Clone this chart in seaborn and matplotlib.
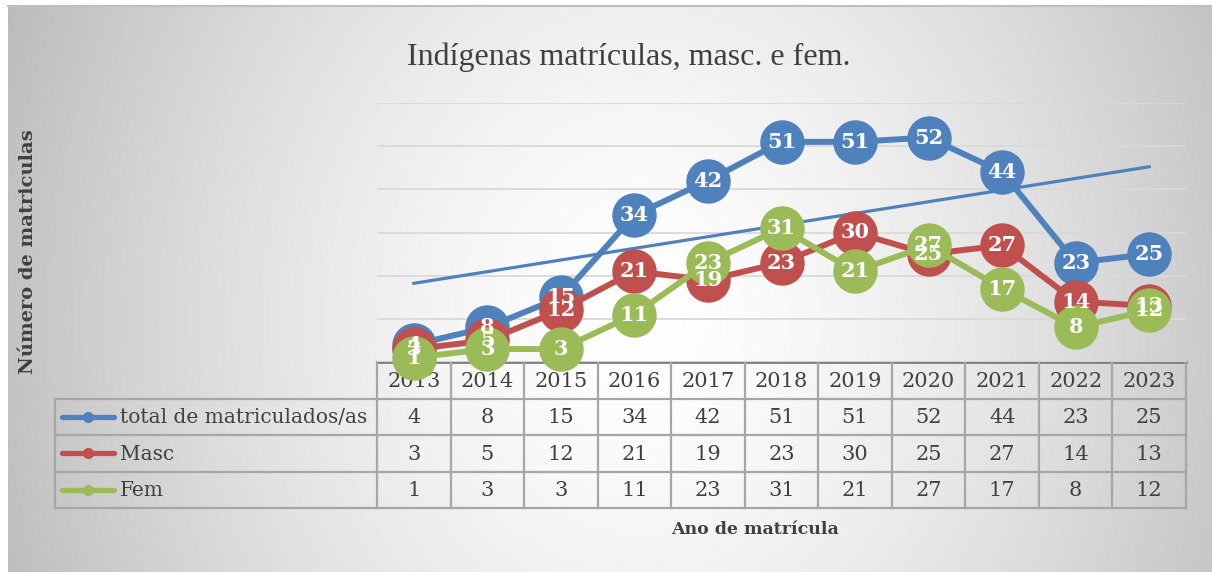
import numpy as np
import pandas as pd
import seaborn as sns
import matplotlib.pyplot as plt

# data
anos = ['2013', '2014', '2015', '2016', '2017', '2018', '2019', '2020', '2021', '2022', '2023']
total = [4, 8, 15, 34, 42, 51, 51, 52, 44, 23, 25]
masc = [3, 5, 12, 21, 19, 23, 30, 25, 27, 14, 13]
fem = [1, 3, 3, 11, 23, 31, 21, 27, 17, 8, 12]
series = ['total de matriculados/as', 'Masc', 'Fem']
cores = ['#4f81bd', '#c0504d', '#9bbb59']

plt.rcParams['font.family'] = 'DejaVu Serif'
txt_cor = '#404040'

W, H = 1212, 572
fig = plt.figure(figsize=(W / 100, H / 100), dpi=100)

# ==============================
# background gradient
# ==============================
bg = fig.add_axes([0, 0, 1, 1], zorder=0)
yy, xx = np.mgrid[0:H, 0:W]
r = np.sqrt(((xx - 640) / 640) ** 2 + ((yy - 320) / 760) ** 2)
v = 1 - 0.24 * np.clip(r, 0, 1.2) ** 1.5
img = np.dstack([v, v, v])
img[:6, :] = 1
img[:, :8] = 1
bg.imshow(img, extent=[0, W, H, 0], aspect='auto', interpolation='bilinear')
bg.set_xlim(0, W)
bg.set_ylim(H, 0)
bg.axis('off')
bg.plot([8, W], [6, 6], color='#bfbfbf', lw=1.5)

# plot area in pixels
L, R, T, B = 377, 1186, 103, 362

# ==============================
# data table
# ==============================
n = len(anos)
xs = L + np.arange(n + 1) * (R - L) / n
rows = [B, 398.5, 435, 471.5, 508]
leg_left = 55
line_c = '#a6a6a6'

bg.plot([L, R], [B, B], color='#7f7f7f', lw=2, zorder=2)
for yr in rows[1:]:
    bg.plot([leg_left, R], [yr, yr], color=line_c, lw=1.6, zorder=2)
for x in xs:
    bg.plot([x, x], [B, rows[-1]], color=line_c, lw=1.6, zorder=2)
bg.plot([leg_left, leg_left], [rows[1], rows[-1]], color=line_c, lw=1.6, zorder=2)

centers = (xs[:-1] + xs[1:]) / 2
for c, a in zip(centers, anos):
    bg.text(c, (rows[0] + rows[1]) / 2 + 1, a, ha='center', va='center', fontsize=15, color=txt_cor)

for k, (nome, vals, cor) in enumerate(zip(series, [total, masc, fem], cores)):
    yc = (rows[k + 1] + rows[k + 2]) / 2
    for c, val in zip(centers, vals):
        bg.text(c, yc + 1, str(val), ha='center', va='center', fontsize=15, color=txt_cor)
    bg.plot([62, 114], [yc, yc], color=cor, lw=3.8, solid_capstyle='round', zorder=3)
    bg.plot([88], [yc], 'o', color=cor, markersize=7, zorder=3)
    bg.text(120, yc + 1, nome, ha='left', va='center', fontsize=14.5, color=txt_cor)

# ==============================
# line chart
# ==============================
ax = fig.add_axes([L / W, 1 - B / H, (R - L) / W, (B - T) / H], zorder=2)
ax.patch.set_alpha(0)

idx = np.arange(n)
df = pd.DataFrame({
    'idx': np.tile(idx, 3),
    'valor': total + masc + fem,
    'serie': np.repeat(series, n),
})

ax.set_yticks(range(0, 61, 10))
ax.grid(axis='y', color='#d9d9d9', lw=1.3)
ax.set_axisbelow(True)

sns.regplot(x=idx, y=np.array(total), scatter=False, ci=None, truncate=True,
            color=cores[0], line_kws={'lw': 2.3, 'zorder': 2}, ax=ax)

sns.lineplot(data=df, x='idx', y='valor', hue='serie', hue_order=series,
             palette=cores, marker='o', markersize=32, markeredgewidth=0,
             linewidth=4.3, legend=False, ax=ax, clip_on=False, zorder=3)

for vals in [total, masc, fem]:
    for i, val in enumerate(vals):
        ax.text(i, val, str(val), ha='center', va='center', color='white',
                fontsize=15, fontweight='bold', zorder=10, clip_on=False)

ax.set_xlim(-0.5, n - 0.5)
ax.set_ylim(0, 60)
ax.set_xticks([])
ax.set_yticklabels([])
ax.tick_params(left=False, bottom=False)
ax.set_xlabel('')
ax.set_ylabel('')
for s in ax.spines.values():
    s.set_visible(False)

# ==============================
# titles
# ==============================
fig.text(629 / W, 1 - 57 / H, 'Indígenas matrículas, masc. e fem.',
         family='Liberation Serif', fontsize=23, color=txt_cor, ha='center', va='center')
fig.text(28 / W, 1 - 252 / H, 'Número de matriculas', rotation=90, fontweight='bold',
         fontsize=14, color=txt_cor, ha='center', va='center')
fig.text(755 / W, 1 - 530 / H, 'Ano de matrícula', fontweight='bold',
         fontsize=12.5, color=txt_cor, ha='center', va='center')

fig.savefig('out.png', dpi=100)
